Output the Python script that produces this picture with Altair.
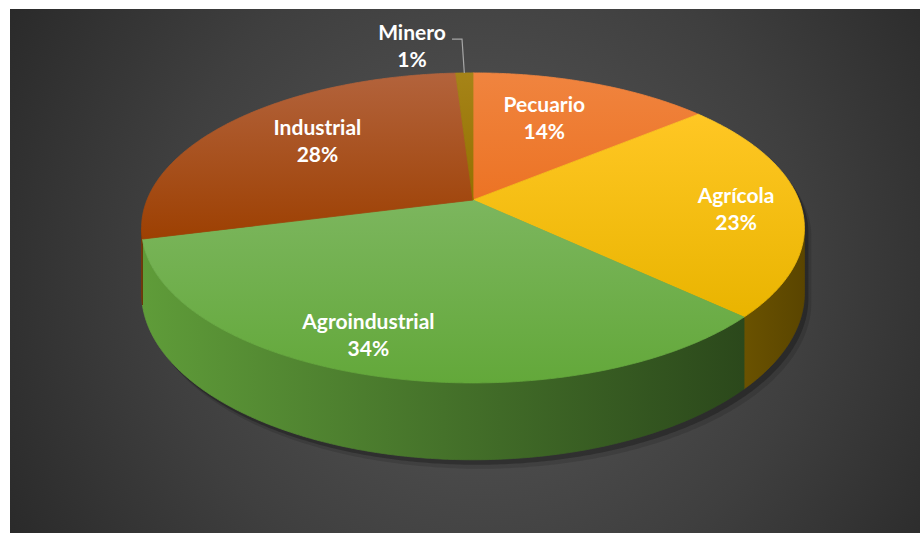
import numpy as np
import pandas as pd
import altair as alt

# Sector shares (%), clockwise from twelve o'clock
categories = ["Pecuario", "Agrícola", "Agroindustrial", "Industrial", "Minero"]
shares = [14, 23, 34, 28, 1]

# Face colours: (lighter top stop, darker bottom stop) for each slice top
top_colors = [
    ("#f0843f", "#ec7324"),
    ("#ffc724", "#e9b400"),
    ("#7cb65e", "#63a83a"),
    ("#b3633c", "#9d4002"),
    ("#a68418", "#937000"),
]
# Side wall colours: (left stop, right stop)
side_colors = [
    ("#a85520", "#8a4010"),
    ("#6a5200", "#5a4500"),
    ("#5f9c39", "#2b481b"),
    ("#7c3505", "#6a2d03"),
    ("#6e5600", "#5a4500"),
]

# Canvas and projection settings for the tilted disc
W, H = 922, 537
CX, CY = 473, 200          # apex of the slices on screen
RX, RY = 326, 150          # disc half-width / foreshortened half-depth
PERSP = 0.18               # perspective strength (near side larger)
DEPTH = 63                 # wall thickness
FRONT_LO = 90 + np.degrees(np.arcsin(PERSP))
FRONT_HI = 270 - np.degrees(np.arcsin(PERSP))

# Label placement inside each slice: radius fraction and angular nudge
LABEL_R = [0.64, 0.80, 0.83, 0.66]
LABEL_NUDGE = [-3.0, 3.0, 5.0, 3.0]
LEADER_R = 1.33
LINE_H = 27


def rim(theta, r=1.0, drop=0.0):
    t = np.radians(np.asarray(theta, dtype=float))
    u = r * np.sin(t)
    d = -r * np.cos(t)
    s = 1.0 / (1.0 - PERSP * d)
    return CX + RX * u * s, CY + (RY * d + drop) * s


def frame(xs, ys):
    return pd.DataFrame({"x": xs, "y": ys, "i": np.arange(len(xs))})


def top_frame(a, b):
    th = np.linspace(a, b, max(int(b - a) * 2 + 2, 4))
    x, y = rim(th)
    return frame(np.concatenate([[CX], x, [CX]]), np.concatenate([[CY], y, [CY]]))


def side_frame(a, b):
    lo, hi = max(a, FRONT_LO), min(b, FRONT_HI)
    if hi <= lo:
        return None
    th = np.linspace(lo, hi, max(int(hi - lo) * 2 + 2, 4))
    xt, yt = rim(th)
    xb, yb = rim(th[::-1], drop=DEPTH)
    return frame(np.concatenate([xt, xb, xt[:1]]), np.concatenate([yt, yb, yt[:1]]))


def silhouette_frame(dx, dy):
    th_top = np.linspace(FRONT_HI, 360 + FRONT_LO, 400)
    th_bot = np.linspace(FRONT_LO, FRONT_HI, 300)
    xt, yt = rim(th_top)
    xb, yb = rim(th_bot, drop=DEPTH)
    return frame(np.concatenate([xt, xb]) + dx, np.concatenate([yt, yb]) + dy)


XS = alt.Scale(domain=[0, W], nice=False, zero=False)
YS = alt.Scale(domain=[0, H], reverse=True, nice=False, zero=False)


def polygon(df, paint, opacity=1.0, stroke_w=0.8):
    return alt.Chart(df).mark_line(
        filled=True, fill=paint, stroke=paint, strokeWidth=stroke_w,
        opacity=opacity, interpolate="linear",
    ).encode(
        x=alt.X("x:Q", scale=XS, axis=None),
        y=alt.Y("y:Q", scale=YS, axis=None),
        order=alt.Order("i:Q"),
    )


def vgrad(c0, c1):
    return alt.Gradient(gradient="linear", x1=0, y1=0, x2=0, y2=1,
                        stops=[alt.GradientStop(offset=0, color=c0),
                               alt.GradientStop(offset=1, color=c1)])


def hgrad(c0, c1):
    return alt.Gradient(gradient="linear", x1=0, y1=0, x2=1, y2=0,
                        stops=[alt.GradientStop(offset=0, color=c0),
                               alt.GradientStop(offset=1, color=c1)])


# Background panel with a soft radial glow
panel_fill = alt.Gradient(
    gradient="radial", x1=0.52, y1=0.5, r1=0, x2=0.52, y2=0.5, r2=0.72,
    stops=[alt.GradientStop(offset=0, color="#595959"),
           alt.GradientStop(offset=0.5, color="#3f3f3f"),
           alt.GradientStop(offset=1, color="#1f1f1f")],
)
panel = alt.Chart(pd.DataFrame({"k": [0]})).mark_rect(fill=panel_fill).encode(
    x=alt.value(10), x2=alt.value(920), y=alt.value(9), y2=alt.value(533)
)

layers = [panel]

# Drop shadow beneath the disc
layers.append(polygon(silhouette_frame(7, 9), "#000000", opacity=0.12, stroke_w=0))
layers.append(polygon(silhouette_frame(4, 5), "#000000", opacity=0.25, stroke_w=0))

ends = np.cumsum(shares) * 3.6
starts = np.concatenate([[0.0], ends[:-1]])

# Side walls first, then the top faces
for k in range(len(categories)):
    sf = side_frame(starts[k], ends[k])
    if sf is not None:
        layers.append(polygon(sf, hgrad(*side_colors[k])))

for k in range(len(categories)):
    layers.append(polygon(top_frame(starts[k], ends[k]), vgrad(*top_colors[k])))

# In-slice labels
lab_rows = []
for k in range(len(categories) - 1):
    mid = (starts[k] + ends[k]) / 2 + LABEL_NUDGE[k]
    x, y = rim(mid, r=LABEL_R[k])
    lab_rows.append({"x": float(x), "y": float(y),
                     "t": f"{categories[k]}\n{shares[k]}%"})

text_style = dict(font="Lato", fontWeight="bold", fontSize=21, color="white",
                  lineBreak="\n", lineHeight=LINE_H, align="center", baseline="middle")

layers.append(alt.Chart(pd.DataFrame(lab_rows)).mark_text(dy=-LINE_H / 2, **text_style).encode(
    x=alt.X("x:Q", scale=XS, axis=None),
    y=alt.Y("y:Q", scale=YS, axis=None),
    text="t:N",
))

# Small slice: label outside with a leader line
k = len(categories) - 1
mid = (starts[k] + ends[k]) / 2
x0, y0 = rim(mid)
x1, y1 = rim(mid, r=LEADER_R)
leader = frame(np.array([x0, x1, x1 - 10]), np.array([y0, y1, y1]))
layers.append(alt.Chart(leader).mark_line(color="#a6a6a6", strokeWidth=1.2).encode(
    x=alt.X("x:Q", scale=XS, axis=None),
    y=alt.Y("y:Q", scale=YS, axis=None),
    order=alt.Order("i:Q"),
))
layers.append(alt.Chart(pd.DataFrame([{"x": float(x1), "y": float(y1),
                                       "t": f"{categories[k]}\n{shares[k]}%"}]))
              .mark_text(dx=-50, dy=8 - LINE_H / 2, **text_style).encode(
    x=alt.X("x:Q", scale=XS, axis=None),
    y=alt.Y("y:Q", scale=YS, axis=None),
    text="t:N",
))

chart = alt.layer(*layers).properties(
    width=W, height=H, padding=0, autosize="none", background="white"
).configure_view(strokeWidth=0)

chart.save("out.html", embed_options={"renderer": "svg", "actions": False})
